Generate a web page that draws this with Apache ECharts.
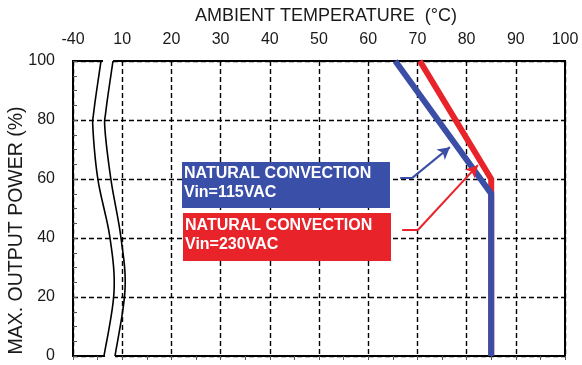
<!DOCTYPE html>
<html>
<head>
<meta charset="utf-8">
<title>Derating curve</title>
<script src="https://cdn.jsdelivr.net/npm/echarts@6/dist/echarts.min.js"></script>
<style>
  html, body { margin: 0; padding: 0; background: #fff; }
  #chart { width: 582px; height: 365px; }
</style>
</head>
<body>
<div id="chart"></div>
<script>
// Temperature axis: position 0 is shown as -40 (axis break between -40 and 10)
const xTicks = [0, 10, 20, 30, 40, 50, 60, 70, 80, 90, 100];
const xTickLabels = ['-40', '10', '20', '30', '40', '50', '60', '70', '80', '90', '100'];
const yTicks = [0, 20, 40, 60, 80, 100];

// Derating curves: [ambient temperature (°C), max output power (%)]
const curve115 = [[65.5, 100], [85, 55], [85, 0]];
const curve230 = [[70.5, 100], [85, 60], [85, 0]];

// Leader arrows from the legend boxes to the curves (data units)
const arrow115 = [[66.5, 60.3], [68.9, 60.3], [76.6, 70.8]];
const arrow230 = [[66.9, 42.7], [70.1, 42.7], [82.3, 64.7]];

const legend115 = ['NATURAL CONVECTION', 'Vin=115VAC'];
const legend230 = ['NATURAL CONVECTION', 'Vin=230VAC'];

const BLUE = '#3a4ea6';
const RED = '#e8232a';
const INK = '#1a1a1a';
const FONT = '"Liberation Sans", Arial, sans-serif';

function arrowMarks(pts, color) {
  return {
    silent: true,
    animation: false,
    label: { show: false },
    lineStyle: { color: color, width: 2, type: 'solid' },
    symbolSize: [10, 12],
    data: [
      [{ coord: pts[0], symbol: 'none' }, { coord: pts[1], symbol: 'none' }],
      [{ coord: pts[1], symbol: 'none' }, { coord: pts[2], symbol: 'arrow' }]
    ]
  };
}

// Catmull-Rom through the points, sampled into a dense polyline
function smoothPoints(pts) {
  const out = [pts[0]];
  for (let i = 0; i < pts.length - 1; i++) {
    const p0 = pts[i - 1] || pts[i];
    const p1 = pts[i];
    const p2 = pts[i + 1];
    const p3 = pts[i + 2] || p2;
    for (let k = 1; k <= 12; k++) {
      const t = k / 12, t2 = t * t, t3 = t2 * t;
      const f = (a, b, c, d) => 0.5 * (2 * b + (-a + c) * t + (2 * a - 5 * b + 4 * c - d) * t2 + (-a + 3 * b - 3 * c + d) * t3);
      out.push([f(p0[0], p1[0], p2[0], p3[0]), f(p0[1], p1[1], p2[1], p3[1])]);
    }
  }
  return out;
}

const chart = echarts.init(document.getElementById('chart'), null, { renderer: 'canvas' });

const option = {
  animation: false,
  backgroundColor: '#fff',
  grid: {
    left: 73, right: 17, top: 61, bottom: 9,
    outerBoundsMode: 'none',
    containLabel: false,
    show: true, borderColor: '#000', borderWidth: 2, backgroundColor: 'transparent'
  },
  xAxis: {
    type: 'value',
    position: 'top',
    min: 0,
    max: 100,
    interval: 10,
    name: 'AMBIENT TEMPERATURE  (°C)',
    nameLocation: 'middle',
    nameGap: 36,
    nameMoveOverlap: false,
    nameTextStyle: { color: INK, fontSize: 18, fontFamily: FONT, padding: [0, 0, 0, 14] },
    axisLine: { show: true, lineStyle: { color: '#000', width: 2 } },
    axisTick: { show: true, inside: true, length: 4, lineStyle: { color: '#555', width: 1 } },
    minorTick: { show: true, splitNumber: 2, length: 4, lineStyle: { color: '#555', width: 1 } },
    axisLabel: {
      color: INK, fontSize: 16, fontFamily: FONT, margin: 13,
      formatter: v => xTickLabels[xTicks.indexOf(v)]
    },
    splitLine: {
      show: true,
      lineStyle: { color: '#000', width: 1.4, type: [5, 3] }
    }
  },
  yAxis: {
    type: 'value',
    min: 0,
    max: 100,
    interval: 20,
    name: 'MAX. OUTPUT POWER (%)',
    nameLocation: 'middle',
    nameGap: 46,
    nameMoveOverlap: false,
    nameTextStyle: { color: INK, fontSize: 19.5, fontFamily: FONT, padding: [0, 44, 0, 0] },
    axisLine: { show: true, lineStyle: { color: '#000', width: 2 } },
    axisTick: { show: true, inside: true, length: 4, lineStyle: { color: '#555', width: 1 } },
    minorTick: { show: true, splitNumber: 4, length: 4, lineStyle: { color: '#555', width: 1 } },
    axisLabel: {
      color: INK, fontSize: 16, fontFamily: FONT, margin: 18,
      formatter: v => (yTicks.indexOf(v) >= 0 ? String(v) : '')
    },
    splitLine: {
      show: true,
      lineStyle: { color: '#000', width: 1.4, type: [5, 3] }
    }
  },
  series: [
    {
      name: 'Vin=230VAC',
      type: 'line',
      data: curve230,
      symbol: 'none',
      clip: true,
      z: 3,
      lineStyle: { color: RED, width: 6, cap: 'butt', join: 'miter' },
      markLine: arrowMarks(arrow230, RED)
    },
    {
      name: 'Vin=115VAC',
      type: 'line',
      data: curve115,
      symbol: 'none',
      clip: true,
      z: 4,
      lineStyle: { color: BLUE, width: 6, cap: 'butt', join: 'miter' },
      markLine: arrowMarks(arrow115, BLUE)
    }
  ]
};

chart.setOption(option);

// Axis-break mark between -40 and 10, plus the two legend boxes
const breakLeft = [[101, 61], [94, 110], [93, 130], [98, 180], [110, 238], [114, 292], [104, 356]];
const breakRight = [[113, 61], [106, 110], [105, 130], [111, 180], [121, 238], [125, 290], [115, 356]];

function legendBox(x, y, w, h, color, lines, textY) {
  return {
    type: 'group',
    x: x, y: y, z: 20,
    children: [
      { type: 'rect', shape: { x: 0, y: 0, width: w, height: h }, style: { fill: color } },
      {
        type: 'text', x: 2, y: textY,
        style: {
          text: lines.join('\n'),
          fill: '#fff',
          font: 'bold 16px ' + FONT,
          lineHeight: 19
        }
      }
    ]
  };
}

chart.setOption({
  graphic: [
    { type: 'rect', z: 10, shape: { x: 103, y: 58, width: 10, height: 6 }, style: { fill: '#fff' } },
    { type: 'rect', z: 10, shape: { x: 105, y: 353, width: 10, height: 6 }, style: { fill: '#fff' } },
    { type: 'polyline', z: 11, shape: { points: smoothPoints(breakLeft) }, style: { fill: null, stroke: '#000', lineWidth: 1.6 } },
    { type: 'polyline', z: 11, shape: { points: smoothPoints(breakRight) }, style: { fill: null, stroke: '#000', lineWidth: 1.6 } },
    legendBox(182, 162, 208, 46, '#3a4fa8', legend115, 2),
    legendBox(183, 213, 208, 48, '#e8232a', legend230, 3)
  ]
});
</script>
</body>
</html>
